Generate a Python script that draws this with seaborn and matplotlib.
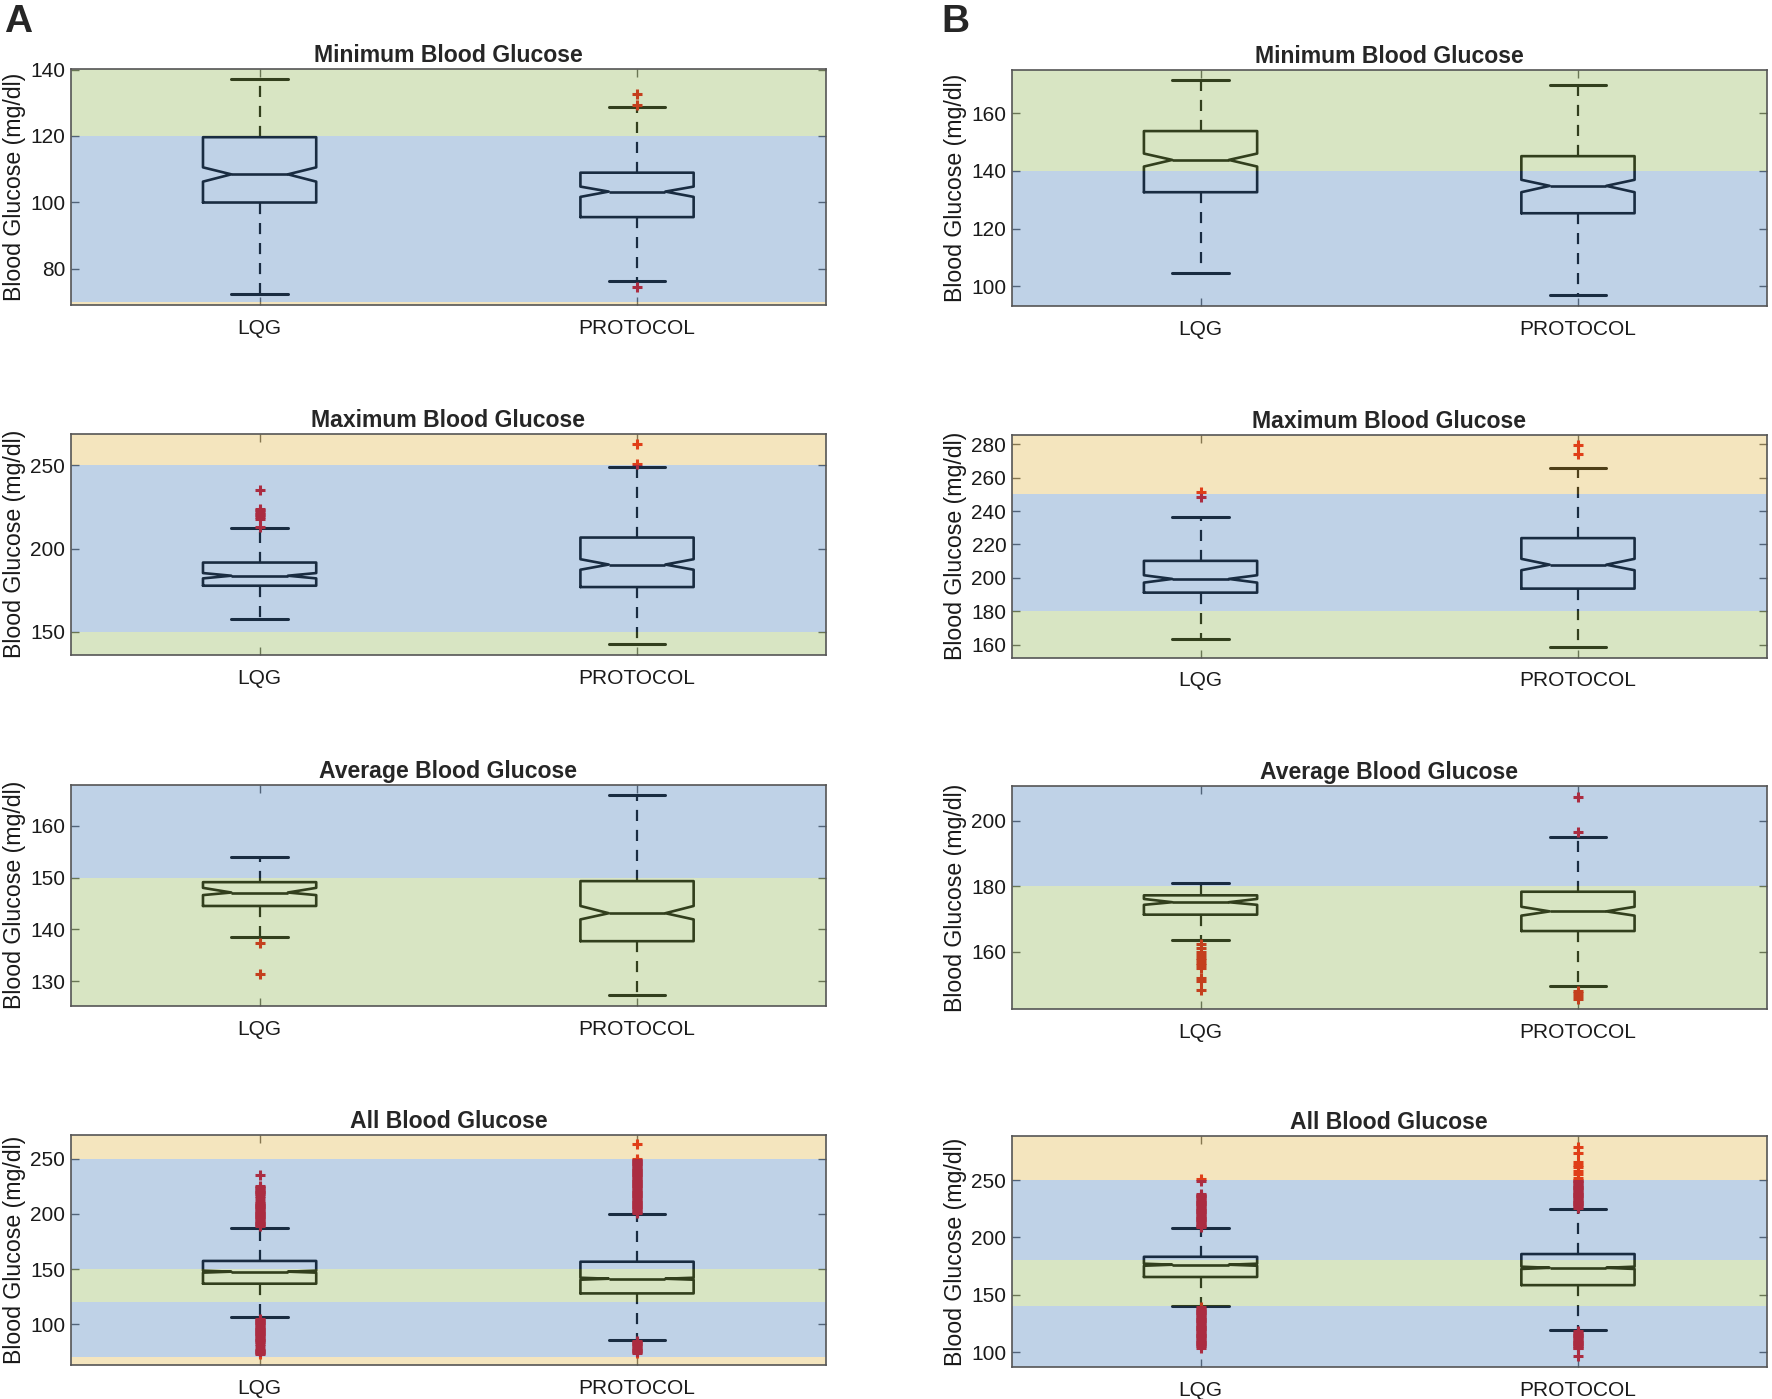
import numpy as np
import pandas as pd
import seaborn as sns
import matplotlib
matplotlib.use("Agg")
import matplotlib.pyplot as plt

titles = ["Minimum Blood Glucose", "Maximum Blood Glucose",
          "Average Blood Glucose", "All Blood Glucose"]
groups = ["LQG", "PROTOCOL"]

# column A, one [LQG, PROTOCOL] pair per row
a_whislo = [[72.4, 76.3], [157.6, 142.6], [138.5, 127.3], [106.3, 85.8]]
a_q1 = [[99.9, 95.5], [177.7, 176.9], [144.5, 137.7], [136.8, 128.0]]
a_med = [[108.4, 103.2], [183.7, 190.4], [147.1, 143.1], [147.7, 141.3]]
a_q3 = [[119.6, 108.9], [191.6, 206.6], [149.1, 149.3], [157.4, 156.7]]
a_whishi = [[137.1, 128.8], [212.5, 249.2], [154.0, 166.0], [187.6, 200.0]]
a_cilo = [[106.2, 101.6], [182.1, 187.3], [146.6, 141.9], [146.8, 140.4]]
a_cihi = [[110.5, 104.7], [185.3, 193.6], [148.0, 144.5], [148.6, 142.2]]
a_fliers = [
    [[], [74.5, 129.4, 132.7]],
    [[213, 218, 219, 220, 221, 222, 223, 224, 235], [251, 263]],
    [[131.4, 137.3], []],
    [[73, 74, 75, 76, 77, 78, 80, 82, 84, 85, 86, 87, 88, 89, 90, 91, 92,
      93, 94, 95, 96, 97, 98, 99, 100, 101, 102, 103, 104, 105,
      189, 190, 191, 192, 193, 194, 195, 196, 197, 198, 199, 200, 201, 202,
      203, 204, 205, 206, 207, 208, 209, 210, 212, 214, 216, 218, 219, 220,
      221, 222, 223, 224, 225, 235],
     [74, 75, 76, 77, 78, 79, 80, 81, 82, 83, 84, 85,
      201, 202, 203, 204, 205, 206, 207, 208, 209, 210, 211, 212, 213, 214,
      215, 216, 217, 218, 219, 220, 221, 222, 223, 224, 225, 226, 227, 228,
      229, 230, 231, 232, 233, 234, 235, 236, 237, 238, 239, 240, 241, 242,
      243, 244, 245, 246, 247, 248, 249, 250, 263]],
]
a_ylim = [(69.0, 140.3), (136.3, 268.9), (125.2, 167.9), (62.8, 271.8)]
a_yticks = [[80, 100, 120, 140], [150, 200, 250],
            [130, 140, 150, 160], [100, 150, 200, 250]]
a_bands = [
    [(0, 70, "yellow"), (70, 120, "blue"), (120, 400, "green")],
    [(0, 150, "green"), (150, 250, "blue"), (250, 400, "yellow")],
    [(0, 150, "green"), (150, 400, "blue")],
    [(0, 70, "yellow"), (70, 120, "blue"), (120, 150, "green"),
     (150, 250, "blue"), (250, 400, "yellow")],
]

# column B
b_whislo = [[104.6, 96.8], [163.6, 158.8], [163.5, 149.5], [139.8, 118.9]]
b_q1 = [[132.6, 125.3], [191.2, 193.6], [171.3, 166.3], [165.5, 158.4]]
b_med = [[143.8, 134.8], [199.4, 207.9], [175.1, 172.3], [176.2, 173.5]]
b_q3 = [[153.8, 145.1], [210.2, 223.8], [177.2, 178.3], [183.1, 185.5]]
b_whishi = [[171.4, 169.7], [236.6, 265.6], [181.1, 195.1], [208.1, 225.0]]
b_cilo = [[141.5, 132.6], [197.2, 204.6], [174.3, 171.0], [175.3, 172.5]]
b_cihi = [[146.0, 136.9], [201.6, 211.4], [176.1, 173.7], [177.1, 174.5]]
b_fliers = [
    [[], []],
    [[248.6, 251.6], [274, 279.4]],
    [[148.3, 151, 152, 155, 155.8, 156.6, 157.4, 158.2, 159, 160, 161, 162.3],
     [145.7, 146.5, 147.3, 148.1, 196.6, 207.3]],
    [[104, 105, 106, 107, 108, 109, 110, 111, 112, 113, 114, 115, 116, 117,
      118, 119, 120, 121, 122, 123, 124, 125, 126, 127, 128, 129, 130, 131,
      132, 133, 134, 135, 136, 137, 138, 139,
      209, 210, 211, 212, 213, 214, 215, 216, 217, 218, 219, 220, 221, 222,
      223, 224, 225, 226, 227, 228, 229, 230, 231, 232, 233, 234, 235, 236,
      237, 238, 249.4, 251],
     [96.5, 103.2, 104, 105, 106, 107, 108, 109, 110, 111, 112, 113, 114, 115,
      116, 117, 118,
      226, 227, 228, 229, 230, 231, 232, 233, 234, 235, 236, 237, 238, 239,
      240, 241, 242, 243, 244, 245, 246, 247, 248, 249, 250, 252, 255, 258,
      261, 263, 266, 273.3, 279.1]],
]
b_ylim = [(93.0, 175.0), (152.4, 285.4), (142.6, 210.5), (87.2, 288.4)]
b_yticks = [[100, 120, 140, 160], [160, 180, 200, 220, 240, 260, 280],
            [160, 180, 200], [100, 150, 200, 250]]
b_bands = [
    [(0, 140, "blue"), (140, 400, "green")],
    [(0, 180, "green"), (180, 250, "blue"), (250, 400, "yellow")],
    [(0, 180, "green"), (180, 400, "blue")],
    [(0, 140, "blue"), (140, 180, "green"), (180, 250, "blue"),
     (250, 400, "yellow")],
]

band_colors = {"blue": (0.29, 0.50, 0.74),
               "green": (0.57, 0.71, 0.33),
               "yellow": (0.88, 0.71, 0.28)}

sns.set_theme(style="ticks")
plt.rcParams["font.family"] = ["Liberation Sans", "DejaVu Sans"]

fig = plt.figure(figsize=(17.72, 13.99), dpi=100)
fig.patch.set_facecolor("white")

a_rows = [(0.782, 0.169), (0.532, 0.158), (0.281, 0.158), (0.024, 0.165)]
b_rows = [(0.781, 0.169), (0.530, 0.159), (0.279, 0.159), (0.023, 0.165)]


def draw_panel(ax, r, whislo, q1, med, q3, whishi, cilo, cihi, fliers,
               ylim, yticks, bands):
    stats = []
    for g in range(2):
        stats.append(dict(label=groups[g], whislo=whislo[r][g], q1=q1[r][g],
                          med=med[r][g], q3=q3[r][g], whishi=whishi[r][g],
                          cilo=cilo[r][g], cihi=cihi[r][g],
                          fliers=np.array(fliers[r][g], dtype=float)))
    ax.bxp(stats, positions=[1, 2], widths=0.3, capwidths=0.15,
           shownotches=True, zorder=1.5,
           boxprops=dict(color="black", lw=1.9),
           whiskerprops=dict(color="black", lw=1.6, linestyle=(0, (5, 4))),
           capprops=dict(color="black", lw=2.2),
           medianprops=dict(color="black", lw=1.9),
           flierprops=dict(marker="+", markeredgecolor="#e00000",
                           markersize=7, markeredgewidth=2.2,
                           linestyle="none"))
    # coloured glucose ranges laid over the boxes, as in the original
    for lo, hi, c in bands[r]:
        ax.axhspan(lo, hi, color=band_colors[c], alpha=0.35, lw=0, zorder=2)
    ax.set_xlim(0.5, 2.5)
    ax.set_ylim(*ylim[r])
    ax.set_yticks(yticks[r])
    ax.set_xticks([1, 2])
    ax.set_xticklabels(groups)
    ax.tick_params(direction="in", top=True, right=True, length=6,
                   width=1.0, color="#555555", labelsize=15,
                   labelcolor="#1a1a1a")
    ax.tick_params(axis="x", pad=10)
    ax.tick_params(axis="y", pad=4)
    for s in ax.spines.values():
        s.set_color("#555555")
        s.set_linewidth(1.2)
        s.set_visible(True)
    ax.set_ylabel("Blood Glucose (mg/dl)", fontsize=16.7, labelpad=3,
                  color="#1a1a1a")
    ax.set_title(titles[r], fontsize=16.6, fontweight="bold", pad=5)


for r in range(4):
    ax = fig.add_axes([0.040, a_rows[r][0], 0.426, a_rows[r][1]])
    draw_panel(ax, r, a_whislo, a_q1, a_med, a_q3, a_whishi, a_cilo, a_cihi,
               a_fliers, a_ylim, a_yticks, a_bands)
    ax = fig.add_axes([0.571, b_rows[r][0], 0.426, b_rows[r][1]])
    draw_panel(ax, r, b_whislo, b_q1, b_med, b_q3, b_whishi, b_cilo, b_cihi,
               b_fliers, b_ylim, b_yticks, b_bands)

fig.text(0.002, 0.997, "A", fontsize=28, fontweight="bold", va="top", ha="left")
fig.text(0.531, 0.997, "B", fontsize=28, fontweight="bold", va="top", ha="left")

fig.savefig("out.png", dpi=100, facecolor="white")
